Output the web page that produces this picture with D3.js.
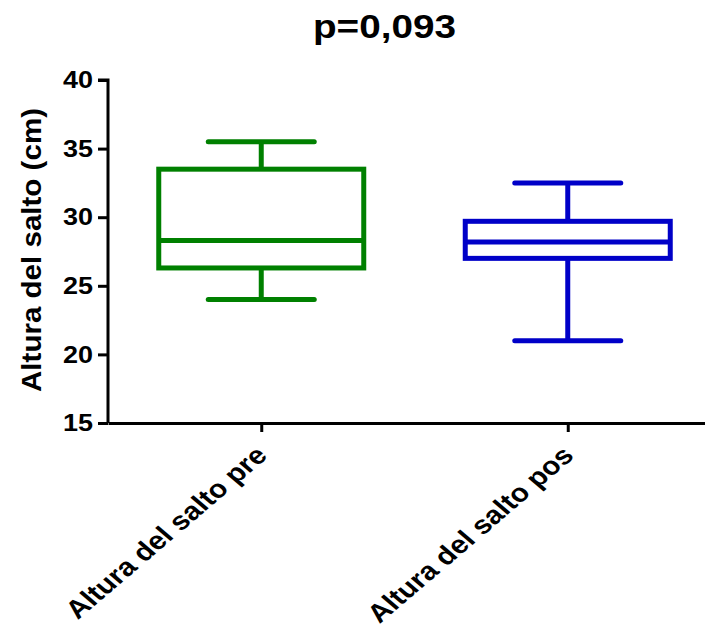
<!DOCTYPE html>
<html>
<head>
<meta charset="utf-8">
<script src="https://cdn.jsdelivr.net/npm/d3@7"></script>
<style>
  body { margin: 0; background: #fff; }
  svg { display: block; font-family: "Liberation Sans", Arial, sans-serif; font-weight: bold; }
</style>
</head>
<body>
<svg id="chart" width="705" height="631"></svg>
<script>
// datos del diagrama de cajas
const categories = ["Altura del salto pre", "Altura del salto pos"];
const whiskerMin = [24.0, 21.0];
const q1 = [26.3, 27.0];
const median = [28.3, 28.2];
const q3 = [33.5, 29.7];
const whiskerMax = [35.5, 32.5];
const colors = ["#008000", "#0000c8"];
const yTicks = [15, 20, 25, 30, 35, 40];
const title = "p=0,093";
const yLabel = "Altura del salto (cm)";

const svg = d3.select("#chart");
const margin = {top: 80, left: 108};
const plotBottom = 423;
const plotRight = 721;
// la imagen original está algo estirada en horizontal
const stretch = 1.17;

const data = categories.map((c, i) => ({
    name: c, lo: whiskerMin[i], q1: q1[i], med: median[i], q3: q3[i], hi: whiskerMax[i], color: colors[i]
}));

// escalas
const x = d3.scalePoint().domain(categories).range([margin.left, plotRight]).padding(0.5);
const y = d3.scaleLinear().domain([15, 40]).range([plotBottom, margin.top]);

const boxW = 205, capW = 106;

// eje y
const yAxis = svg.append("g")
    .attr("transform", `translate(${margin.left},0)`)
    .call(d3.axisLeft(y).tickValues(yTicks).tickSize(10).tickPadding(5));
yAxis.select(".domain").attr("stroke-width", 3).attr("d", `M-10,${y(40)}H0V${plotBottom}`);
yAxis.selectAll(".tick line").attr("stroke-width", 3);
yAxis.selectAll(".tick text").attr("font-size", 24).attr("font-weight", "bold")
    .attr("font-family", "Liberation Sans, Arial, sans-serif").attr("fill", "#000")
    .attr("textLength", 30).attr("lengthAdjust", "spacingAndGlyphs");

// eje x
const xAxis = svg.append("g")
    .attr("transform", `translate(0,${plotBottom})`)
    .call(d3.axisBottom(x).tickSize(9).tickSizeOuter(0));
xAxis.select(".domain").attr("stroke-width", 3);
xAxis.selectAll(".tick line").attr("stroke-width", 3);
xAxis.selectAll(".tick text")
    .attr("font-size", 25.5).attr("font-weight", "bold")
    .attr("font-family", "Liberation Sans, Arial, sans-serif").attr("fill", "#000")
    .attr("text-anchor", "end")
    .attr("x", 0).attr("y", 0).attr("dy", 0)
    .attr("transform", `translate(7,34) scale(${stretch},1) rotate(-45)`);

// cajas
const g = svg.append("g");
const box = g.selectAll(".box").data(data).enter().append("g").attr("class", "box")
    .attr("fill", "none").attr("stroke", d => d.color).attr("stroke-width", 5);

box.append("line")
    .attr("x1", d => x(d.name)).attr("x2", d => x(d.name))
    .attr("y1", d => y(d.hi)).attr("y2", d => y(d.q3));
box.append("line")
    .attr("x1", d => x(d.name)).attr("x2", d => x(d.name))
    .attr("y1", d => y(d.q1)).attr("y2", d => y(d.lo));
box.append("line").attr("stroke-linecap", "round")
    .attr("x1", d => x(d.name) - capW / 2).attr("x2", d => x(d.name) + capW / 2)
    .attr("y1", d => y(d.hi)).attr("y2", d => y(d.hi));
box.append("line").attr("stroke-linecap", "round")
    .attr("x1", d => x(d.name) - capW / 2).attr("x2", d => x(d.name) + capW / 2)
    .attr("y1", d => y(d.lo)).attr("y2", d => y(d.lo));
box.append("rect")
    .attr("x", d => x(d.name) - boxW / 2).attr("width", boxW)
    .attr("y", d => y(d.q3)).attr("height", d => y(d.q1) - y(d.q3));
box.append("line")
    .attr("x1", d => x(d.name) - boxW / 2).attr("x2", d => x(d.name) + boxW / 2)
    .attr("y1", d => y(d.med)).attr("y2", d => y(d.med));

// título
svg.append("text")
    .attr("x", 384.5).attr("y", 38)
    .attr("text-anchor", "middle").attr("font-size", 34)
    .attr("textLength", 143).attr("lengthAdjust", "spacingAndGlyphs")
    .text(title);

// etiqueta eje y
svg.append("text")
    .attr("transform", `translate(41,250) rotate(-90)`)
    .attr("text-anchor", "middle").attr("font-size", 28)
    .attr("textLength", 284).attr("lengthAdjust", "spacingAndGlyphs")
    .text(yLabel);
</script>
</body>
</html>
